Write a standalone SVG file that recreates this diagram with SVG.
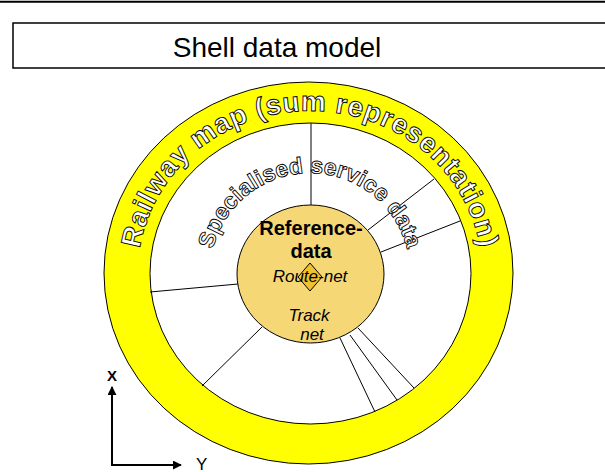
<svg xmlns="http://www.w3.org/2000/svg" xmlns:xlink="http://www.w3.org/1999/xlink" width="605" height="472" viewBox="0 0 605 472">
<style>
.ln{stroke:#000;stroke-width:1;fill:none}
.ring{fill:#FFFF00;stroke:#000;stroke-width:1}
.hole{fill:#FFFFFF;stroke:#000;stroke-width:1}
.outl{fill:#FFFFFF;stroke:#000;stroke-width:0.9;font-family:"Liberation Sans",Arial,sans-serif;font-weight:bold}
.lbl{font-family:"Liberation Sans",Arial,sans-serif;fill:#000}
</style>
<defs>
<marker id="ah" viewBox="0 0 10 10" refX="9" refY="5" markerWidth="4.5" markerHeight="4.5" orient="auto" markerUnits="strokeWidth">
<path d="M0,0 L10,5 L0,10 z" fill="#000"/>
</marker>
<path id="ringPath" d="M148.4,328.4 A172,162 0 1 1 471.6,328.4"/>
<path id="svcPath" d="M216,307.2 A100,100 0 1 1 404,307.2"/>
</defs>
<rect x="0" y="0" width="605" height="472" fill="#FFFFFF"/>
<line x1="0" y1="1.8" x2="605" y2="1.8" stroke="#000" stroke-width="2"/>
<g id="title">
<rect x="13" y="23" width="600" height="45" fill="#FFFFFF" stroke="#000" stroke-width="1.5"/>
<text class="lbl" x="277" y="57" font-size="28" text-anchor="middle">Shell data model</text>
</g>
<g id="railway-map">
<ellipse class="ring" cx="308.5" cy="273" rx="204.5" ry="191"/>
<ellipse class="hole" cx="310.5" cy="273.5" rx="160.5" ry="150.5"/>
<text class="outl" font-size="28" letter-spacing="0.6"><textPath xlink:href="#ringPath" href="#ringPath" startOffset="50%" text-anchor="middle">Railway map (sum representation)</textPath></text>
</g>
<g id="connectors">
<line class="ln" x1="311" y1="123" x2="311" y2="205"/>
<line class="ln" x1="368" y1="230" x2="434" y2="179"/>
<line class="ln" x1="381" y1="252" x2="460" y2="221"/>
<line class="ln" x1="150" y1="292" x2="238" y2="284"/>
<line class="ln" x1="262" y1="327" x2="202" y2="386"/>
<line class="ln" x1="340" y1="338" x2="375" y2="412"/>
<line class="ln" x1="350" y1="335" x2="397" y2="400"/>
<line class="ln" x1="358" y1="328" x2="414" y2="388"/>
</g>
<g id="specialised-service-data">
<text class="outl" font-size="23"><textPath xlink:href="#svcPath" href="#svcPath" startOffset="50%" text-anchor="middle">Specialised service data</textPath></text>
</g>
<g id="reference-data">
<ellipse cx="310.5" cy="274" rx="73.5" ry="69" fill="#F6D776" stroke="#000" stroke-width="1"/>
<text class="lbl" x="311" y="235" font-size="20" font-weight="bold" text-anchor="middle">Reference-</text>
<text class="lbl" x="311" y="258" font-size="20" font-weight="bold" text-anchor="middle">data</text>
</g>
<g id="route-net">
<polygon points="310,263 322,277 310,291 298,277" fill="#EFC12E" stroke="#000" stroke-width="1"/>
<text class="lbl" x="310" y="282" font-size="17" font-style="italic" text-anchor="middle">Route-net</text>
</g>
<g id="track-net">
<text class="lbl" x="309" y="321" font-size="17" font-style="italic" text-anchor="middle">Track</text>
<text class="lbl" x="312" y="340" font-size="17" font-style="italic" text-anchor="middle">net</text>
</g>
<g id="axes">
<line x1="112" y1="465" x2="112" y2="387" stroke="#000" stroke-width="2" marker-end="url(#ah)"/>
<line x1="111" y1="465" x2="181" y2="465" stroke="#000" stroke-width="2" marker-end="url(#ah)"/>
<text class="lbl" x="112" y="381" font-size="15" font-weight="bold" text-anchor="middle">X</text>
<text class="lbl" x="196" y="470" font-size="17">Y</text>
</g>
</svg>
